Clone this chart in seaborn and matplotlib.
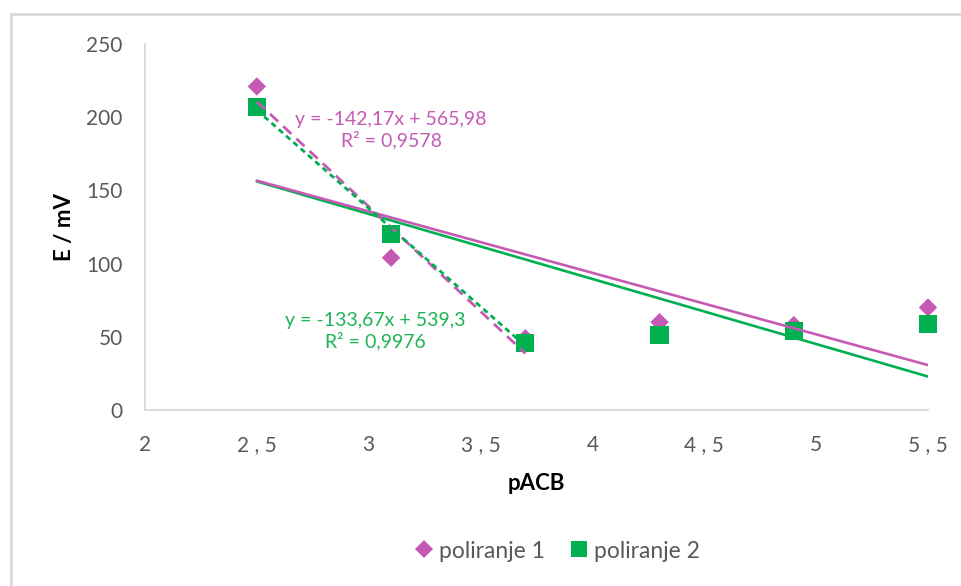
import matplotlib
matplotlib.use("Agg")
import matplotlib.pyplot as plt
from matplotlib.lines import Line2D
import seaborn as sns
import pandas as pd

# ---- data ----
pACB = [2.5, 3.1, 3.7, 4.3, 4.9, 5.5]
poliranje_1 = [221, 104, 49, 60, 58, 70]
poliranje_2 = [207, 120, 46, 51, 54, 59]
series_names = ["poliranje 1", "poliranje 2"]
x_ticks = [2, 2.5, 3, 3.5, 4, 4.5, 5, 5.5]
x_tick_labels = ["2", "2 , 5", "3", "3 , 5", "4", "4 , 5", "5", "5 , 5"]
y_ticks = [0, 50, 100, 150, 200, 250]
eq_1 = "y = -142,17x + 565,98\nR² = 0,9578"
eq_2 = "y = -133,67x + 539,3\nR² = 0,9976"
n_fit = 3  # points used for the dashed trendlines

df1 = pd.DataFrame({"x": pACB, "y": poliranje_1})
df2 = pd.DataFrame({"x": pACB, "y": poliranje_2})

MAG = "#C55AB4"
GRN = "#00B050"
TXT = "#595959"

sns.set_theme(style="white")
plt.rcParams["font.family"] = ["Lato", "DejaVu Sans"]

fig = plt.figure(figsize=(9.61, 5.86), dpi=100)
ax = fig.add_axes([145 / 961, 176 / 586, 783 / 961, 366 / 586])

sns.scatterplot(data=df1, x="x", y="y", marker="D", s=88, color=MAG,
                edgecolor="none", ax=ax, zorder=3, clip_on=False)
sns.scatterplot(data=df2, x="x", y="y", marker="s", s=170, color=GRN,
                edgecolor="none", ax=ax, zorder=3, clip_on=False)

# linear trendlines over all points
sns.regplot(data=df2, x="x", y="y", scatter=False, ci=None, ax=ax,
            line_kws=dict(color=GRN, lw=1.9, zorder=4))
sns.regplot(data=df1, x="x", y="y", scatter=False, ci=None, ax=ax,
            line_kws=dict(color=MAG, lw=1.9, zorder=4))
# dashed trendlines over first points
sns.regplot(data=df1.iloc[:n_fit], x="x", y="y", scatter=False, ci=None, ax=ax,
            line_kws=dict(color=MAG, lw=2.0, ls=(0, (4, 2.5)), zorder=5))
sns.regplot(data=df2.iloc[:n_fit], x="x", y="y", scatter=False, ci=None, ax=ax,
            line_kws=dict(color=GRN, lw=2.0, ls=(0, (2, 1.5)), zorder=5))

ax.text(3.10, 191, eq_1, color=MAG, fontsize=14, ha="center", va="center",
        multialignment="center", linespacing=1.2)
ax.text(3.03, 54, eq_2, color="#1DB455", fontsize=14, ha="center", va="center",
        multialignment="center", linespacing=1.2)

ax.set_xlim(2, 5.5)
ax.set_ylim(0, 250)
ax.set_xticks(x_ticks)
ax.set_xticklabels(x_tick_labels)
ax.set_yticks(y_ticks)
ax.tick_params(axis="both", length=0, labelsize=15, labelcolor=TXT)
ax.tick_params(axis="x", pad=18)
ax.tick_params(axis="y", pad=16)
ax.set_xlabel("pACB", fontsize=16, fontweight="bold", color="black", labelpad=13)
ax.set_ylabel("E / mV", fontsize=16, fontweight="bold", color="black", labelpad=8)
for s in ["top", "right"]:
    ax.spines[s].set_visible(False)
ax.spines["left"].set_color("#D9D9D9")
ax.spines["bottom"].set_color("#D9D9D9")
ax.spines["left"].set_linewidth(1.3)
ax.spines["bottom"].set_linewidth(1.3)
ax.grid(False)

handles = [
    Line2D([], [], marker="D", ls="none", color=MAG, markersize=9, markeredgewidth=0),
    Line2D([], [], marker="s", ls="none", color=GRN, markersize=11.5, markeredgewidth=0),
]
fig.legend(handles, series_names, loc="center", bbox_to_anchor=(556 / 961, 1 - 551 / 586),
           ncol=2, frameon=False, fontsize=16.5, labelcolor=TXT, handletextpad=0.15,
           columnspacing=1.0, handlelength=1.0)

# chart border (top/left visible in crop)
fig.add_artist(Line2D([11 / 961, 11 / 961], [0, 1 - 14 / 586], color="#D9D9D9", lw=2,
                      transform=fig.transFigure))
fig.add_artist(Line2D([11 / 961, 1], [1 - 14 / 586, 1 - 14 / 586], color="#D9D9D9", lw=2,
                      transform=fig.transFigure))

fig.savefig("out.png", dpi=100)
